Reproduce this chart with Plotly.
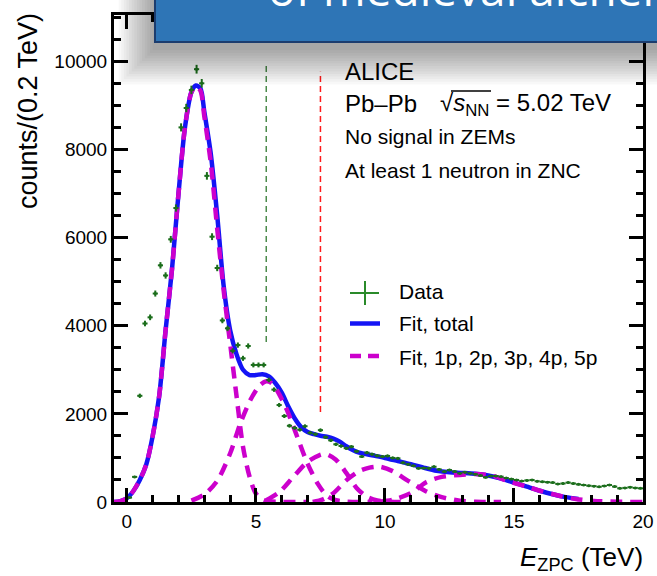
import plotly.graph_objects as go

# ---------------- data ----------------
bin_centers = [0.1, 0.3, 0.5, 0.7, 0.9, 1.1, 1.3, 1.5, 1.7, 1.9,
               2.1, 2.3, 2.5, 2.7, 2.9, 3.1, 3.3, 3.5, 3.7, 3.9,
               4.1, 4.3, 4.5, 4.7, 4.9, 5.1, 5.3, 5.5, 5.7, 5.9,
               6.1, 6.3, 6.5, 6.7, 6.9, 7.1, 7.3, 7.5, 7.7, 7.9,
               8.1, 8.3, 8.5, 8.7, 8.9, 9.1, 9.3, 9.5, 9.7, 9.9,
               10.1, 10.3, 10.5, 10.7, 10.9, 11.1, 11.3, 11.5, 11.7, 11.9,
               12.1, 12.3, 12.5, 12.7, 12.9, 13.1, 13.3, 13.5, 13.7, 13.9,
               14.1, 14.3, 14.5, 14.7, 14.9, 15.1, 15.3, 15.5, 15.7, 15.9,
               16.1, 16.3, 16.5, 16.7, 16.9, 17.1, 17.3, 17.5, 17.7, 17.9,
               18.1, 18.3, 18.5, 18.7, 18.9, 19.1, 19.3, 19.5, 19.7, 19.9]
counts = [100, 570, 2410, 4050, 4190, 4730, 5370, 5140, 5960, 6670,
          8500, 8940, 9350, 9820, 9500, 7400, 6020, 5310, 4120, 3940,
          3430, 3560, 3260, 3540, 3110, 3110, 3110, 2770, 2550, 2200,
          1950, 1730, 1680, 1640, 1720, 1570, 1540, 1630, 1470, 1400,
          1310, 1270, 1220, 1255, 1150, 1030, 1120, 1085, 1050, 1030,
          1045, 1000, 990, 890, 855, 820, 765, 770, 765, 800,
          740, 690, 725, 690, 650, 675, 650, 630, 600, 560,
          590, 590, 575, 545, 520, 500, 475, 490, 500, 470,
          460, 450, 440, 410, 420, 440, 420, 400, 385, 370,
          360, 345, 365, 385, 350, 310, 320, 335, 320, 310]

total_x = [-0.5, -0.25, 0.0, 0.25, 0.5, 0.75, 1.0, 1.25, 1.5, 1.75, 2.0, 2.25, 2.5, 2.67,
           2.85, 3.0, 3.25, 3.5, 3.75, 4.0, 4.25, 4.5, 4.75, 5.0, 5.25, 5.5, 5.75, 6.0,
           6.25, 6.5, 6.75, 7.0, 7.25, 7.5, 7.75, 8.0, 8.25, 8.5, 8.75, 9.0, 9.5, 10.0,
           10.5, 11.0, 11.5, 12.0, 12.5, 13.0, 13.5, 14.0, 14.5, 15.0, 15.5, 16.0, 16.5,
           17.0, 17.5]
total_y = [0, 20, 84, 250, 500, 850, 1500, 2400, 3900, 5300, 7000, 8500, 9300, 9450,
           9380, 8850, 7900, 6500, 4900, 3900, 3350, 3000, 2880, 2880, 2900, 2850, 2700, 2480,
           2170, 1900, 1700, 1590, 1540, 1505, 1480, 1440, 1370, 1265, 1180, 1120, 1060, 1000,
           930, 860, 780, 710, 675, 660, 640, 600, 530, 440, 347, 255, 175,
           110, 70]

p1_x = [-0.5, -0.25, 0.0, 0.25, 0.5, 0.75, 1.0, 1.25, 1.5, 1.75, 2.0, 2.25, 2.5, 2.67,
        2.85, 3.0, 3.25, 3.5, 3.75, 4.0, 4.25, 4.5, 4.75, 5.0, 5.25, 5.5, 6.0, 7.0]
p1_y = [0, 20, 84, 250, 500, 850, 1500, 2400, 3900, 5300, 7000, 8500, 9300, 9430,
        9330, 8750, 7700, 6200, 4800, 3600, 2400, 1250, 580, 190, 60, 15, 0, 0]
p2_x = [2.5, 3.0, 3.5, 4.0, 4.4, 4.8, 5.15, 5.4, 5.6, 5.8, 6.2, 6.6, 7.0, 7.4, 7.75, 8.1, 8.5, 9.5]
p2_y = [30, 170, 480, 1100, 1790, 2330, 2650, 2740, 2700, 2550, 2090, 1480, 870, 410, 140, 40, 10, 0]
p3_x = [5.4, 5.9, 6.45, 7.0, 7.45, 7.7, 8.1, 8.5, 8.9, 9.3, 9.7, 10.2, 11.0]
p3_y = [40, 220, 570, 910, 1060, 1090, 960, 660, 320, 120, 35, 5, 0]
p4_x = [7.2, 7.6, 8.0, 8.5, 9.0, 9.4, 9.8, 10.3, 10.9, 11.6, 12.2, 12.9, 13.5, 14.5]
p4_y = [0, 60, 200, 490, 700, 780, 800, 700, 480, 240, 110, 30, 5, 0]
p5_x = [9.8, 10.3, 11.0, 11.6, 12.2, 12.9, 13.5, 14.2, 14.8, 15.5, 16.1, 16.8, 17.4, 18.1, 19.0, 20.0]
p5_y = [10, 50, 200, 450, 570, 615, 635, 590, 470, 347, 240, 136, 68, 25, 5, 0]

vline_x = [5.4, 7.5]
vline_ymin = [3630, 2040]
vline_ymax = [9915, 9760]
vline_colors = ["#4a8a4a", "#ff1a1a"]

x_ticks = [0, 5, 10, 15, 20]
y_ticks = [0, 2000, 4000, 6000, 8000, 10000]
y_tick_labels = ["0", "2000", "4000", "6000", "8000", "10000"]

# ---------------- layout helpers ----------------
W, H = 657, 576
L, R, T, B = 114, 643, 15, 502


def px(xp):
    return (xp - L) / (R - L)


def py(yp):
    return (B - yp) / (B - T)


GREEN = "#1c6e1c"
BLUE = "#1414f5"
MAG = "#cc00cc"
FONT = "Liberation Sans, Arial, sans-serif"

fig = go.Figure()

# fit total
fig.add_trace(go.Scatter(x=total_x, y=total_y, mode="lines",
                         line=dict(color=BLUE, width=4.5, shape="spline", smoothing=0.8),
                         showlegend=False, hoverinfo="skip"))
# components
for cx, cy in [(p1_x, p1_y), (p2_x, p2_y), (p3_x, p3_y), (p4_x, p4_y), (p5_x, p5_y)]:
    fig.add_trace(go.Scatter(x=cx, y=cy, mode="lines",
                             line=dict(color=MAG, width=4.5, dash="12px,8px",
                                       shape="spline", smoothing=0.8),
                             showlegend=False, hoverinfo="skip"))
# data
fig.add_trace(go.Scatter(x=bin_centers, y=counts, mode="markers",
                         marker=dict(size=3, color=GREEN),
                         error_y=dict(type="sqrt", color=GREEN, thickness=2, width=0),
                         error_x=dict(type="constant", value=0.1, color=GREEN, thickness=2, width=0),
                         showlegend=False, hoverinfo="skip"))
# vertical dashed lines
for vx, y0, y1, c in zip(vline_x, vline_ymin, vline_ymax, vline_colors):
    fig.add_trace(go.Scatter(x=[vx, vx], y=[y0, y1], mode="lines",
                             line=dict(color=c, width=1.5, dash="6px,4px"),
                             showlegend=False, hoverinfo="skip"))

shapes = []
annotations = []

# manual legend
shapes.append(dict(type="line", xref="paper", yref="paper", x0=px(350), x1=px(379), y0=py(293), y1=py(293),
                   line=dict(color="#2a8a2a", width=2)))
shapes.append(dict(type="line", xref="paper", yref="paper", x0=px(365), x1=px(365), y0=py(281), y1=py(305),
                   line=dict(color="#2a8a2a", width=2)))
shapes.append(dict(type="line", xref="paper", yref="paper", x0=px(350), x1=px(380), y0=py(323.5), y1=py(323.5),
                   line=dict(color=BLUE, width=4.5)))
shapes.append(dict(type="line", xref="paper", yref="paper", x0=px(350), x1=px(380), y0=py(356), y1=py(356),
                   line=dict(color=MAG, width=4.5, dash="11px,7px")))
for txt, yy in [("Data", 292), ("Fit, total", 323), ("Fit, 1p, 2p, 3p, 4p, 5p", 357)]:
    annotations.append(dict(text=txt, xref="paper", yref="paper", x=px(397), y=py(yy),
                            xanchor="left", yanchor="middle", showarrow=False,
                            font=dict(family=FONT, size=21, color="black")))

# physics labels
annotations.append(dict(text="ALICE", xref="paper", yref="paper", x=px(343), y=py(71),
                        xanchor="left", yanchor="middle", showarrow=False,
                        font=dict(family=FONT, size=24, color="black")))
annotations.append(dict(text="Pb–Pb", xref="paper", yref="paper", x=px(343), y=py(103),
                        xanchor="left", yanchor="middle", showarrow=False,
                        font=dict(family=FONT, size=24, color="black")))
annotations.append(dict(text="√<i>s</i><sub>NN</sub> = 5.02 TeV", xref="paper", yref="paper", x=px(438), y=py(104),
                        xanchor="left", yanchor="middle", showarrow=False,
                        font=dict(family=FONT, size=24, color="black")))
shapes.append(dict(type="line", xref="paper", yref="paper", x0=px(451), x1=px(491), y0=py(91), y1=py(91),
                   line=dict(color="black", width=1.5)))
annotations.append(dict(text="No signal in ZEMs", xref="paper", yref="paper", x=px(343), y=py(136),
                        xanchor="left", yanchor="middle", showarrow=False,
                        font=dict(family=FONT, size=21, color="black")))
annotations.append(dict(text="At least 1 neutron in ZNC", xref="paper", yref="paper", x=px(343), y=py(170),
                        xanchor="left", yanchor="middle", showarrow=False,
                        font=dict(family=FONT, size=21, color="black")))

# axis titles
annotations.append(dict(text="counts/(0.2 TeV)", xref="paper", yref="paper", x=px(28), y=py(11),
                        xanchor="center", yanchor="top", textangle=-90, showarrow=False,
                        font=dict(family=FONT, size=27, color="black")))
annotations.append(dict(text="<i>E</i><sub>ZPC</sub> (TeV)", xref="paper", yref="paper", x=px(645), y=py(558),
                        xanchor="right", yanchor="middle", showarrow=False,
                        font=dict(family=FONT, size=26, color="black")))

# slide overlay: drop shadow + blue title box
n_sh = 14
for i in range(n_sh):
    g = 2.6 * (i + 1)
    shapes.append(dict(type="rect", xref="paper", yref="paper", layer="above",
                       x0=px(155 - g), x1=px(700), y0=py(42 + 6 + g), y1=py(-40),
                       fillcolor="black", opacity=0.028, line=dict(width=0)))
shapes.append(dict(type="rect", xref="paper", yref="paper", layer="above",
                   x0=px(155), x1=px(700), y0=py(42), y1=py(-40),
                   fillcolor="#2E75B6", line=dict(color="#1B3C6E", width=2)))
annotations.append(dict(text="of medieval alchemy", xref="paper", yref="paper", x=px(266), y=py(-12),
                        xanchor="left", yanchor="middle", showarrow=False,
                        font=dict(family="Open Sans, Noto Sans, sans-serif", size=46, color="white")))

axis_common = dict(showline=True, linewidth=3, linecolor="black", mirror="allticks",
                   ticks="inside", tickwidth=2.5, tickcolor="black", showgrid=False, zeroline=False,
                   automargin=False,
                   tickfont=dict(family=FONT, size=19, color="black"))

fig.update_layout(
    width=W, height=H, autosize=False,
    margin=dict(l=L, r=W - R, t=T, b=H - B, pad=0),
    paper_bgcolor="white", plot_bgcolor="white",
    showlegend=False,
    xaxis=dict(range=[-0.5, 20], tickvals=x_ticks, ticklen=14,
               minor=dict(dtick=1, tick0=0, ticks="inside", ticklen=7, tickwidth=2.5, tickcolor="black"),
               **axis_common),
    yaxis=dict(range=[0, 11050], tickvals=y_ticks, ticktext=y_tick_labels, ticklen=14,
               minor=dict(dtick=500, tick0=0, ticks="inside", ticklen=7, tickwidth=2.5, tickcolor="black"),
               **axis_common),
    shapes=shapes,
    annotations=annotations,
)

fig.write_html("out.html", config={"responsive": False, "displayModeBar": False},
               post_script="document.body.style.margin='0px';document.body.style.overflow='hidden';")
